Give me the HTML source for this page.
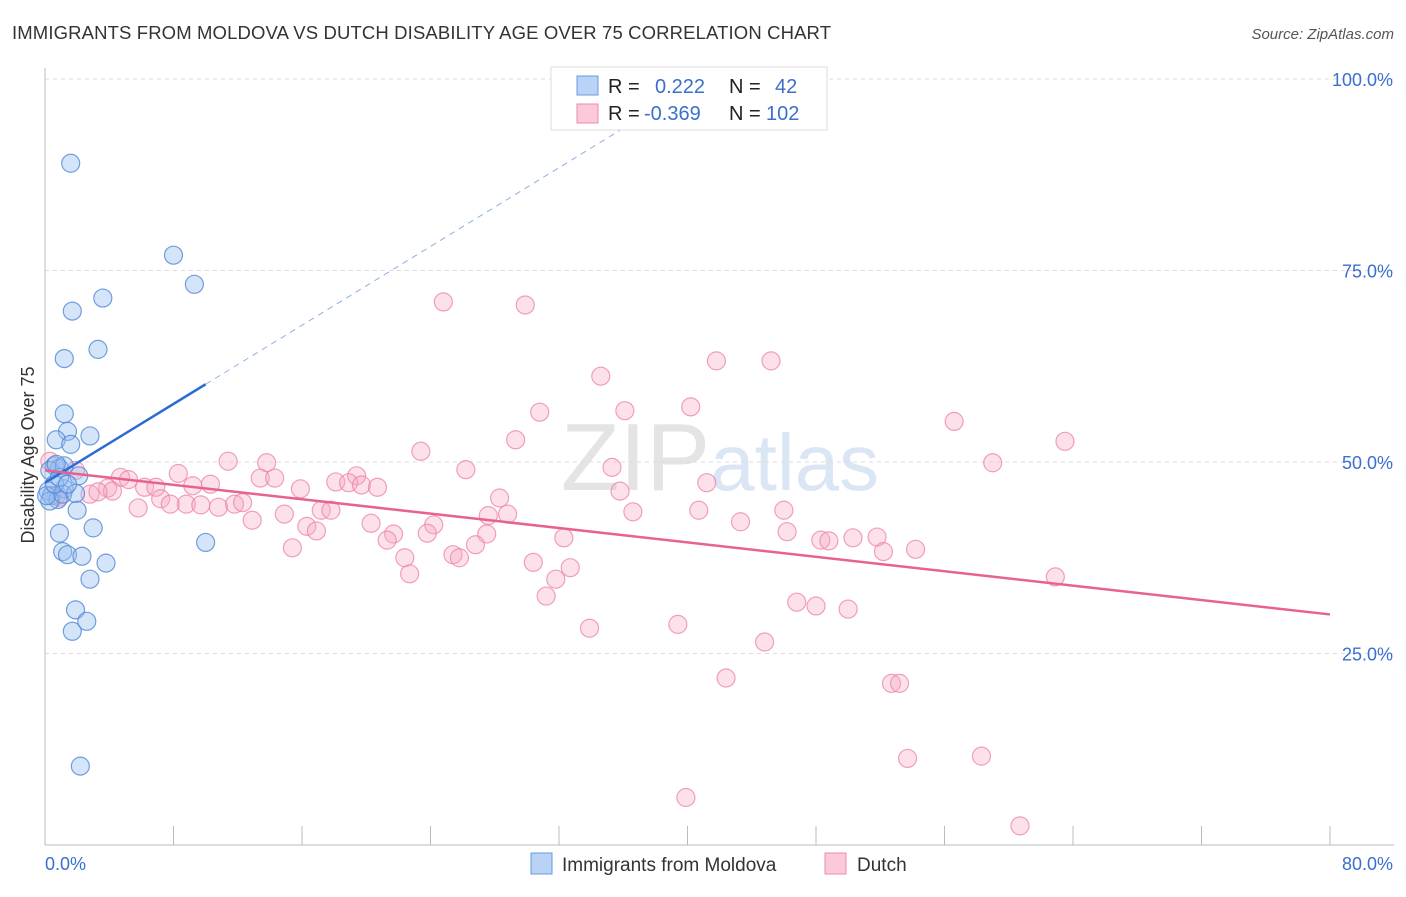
<!DOCTYPE html>
<html><head><meta charset="utf-8"><style>
body{margin:0;background:#fff;font-family:"Liberation Sans",sans-serif}
svg text{font-family:"Liberation Sans",sans-serif}
</style></head><body>
<svg id="c" width="1406" height="892">
<text x="12" y="39" font-size="18.5" fill="#333" textLength="819">IMMIGRANTS FROM MOLDOVA VS DUTCH DISABILITY AGE OVER 75 CORRELATION CHART</text>
<text x="1394" y="39" font-size="15" fill="#555" text-anchor="end" font-style="italic">Source: ZipAtlas.com</text>
<text x="720" y="490" font-size="96" fill="#e4e4e4" text-anchor="middle" font-family="Liberation Serif">ZIP<tspan fill="#dbe6f5" font-family="Liberation Sans" font-size="80">atlas</tspan></text>
<g id="grid"></g><g id="axes"></g><g id="pts"></g><g id="lines"></g>
<text x="34" y="455" font-size="18" fill="#333" text-anchor="middle" transform="rotate(-90 34 455)">Disability Age Over 75</text>
<g>
<rect x="551" y="67" width="276" height="63" fill="#fff" stroke="#ddd"/>
<rect x="577" y="76" width="21" height="19" fill="#b8d3f5" stroke="#6a9be0"/>
<rect x="577" y="104" width="21" height="19" fill="#fbc9d8" stroke="#ec8aaa"/>
<text x="608" y="93" font-size="20" fill="#222">R = <tspan x="655" fill="#3a6fcf">0.222</tspan><tspan x="729" fill="#222">N =</tspan><tspan x="775" fill="#3a6fcf">42</tspan></text>
<text x="608" y="120" font-size="20" fill="#222">R = <tspan x="644" fill="#3a6fcf">-0.369</tspan><tspan x="729" fill="#222">N =</tspan><tspan x="766" fill="#3a6fcf">102</tspan></text>
</g>
<g>
<rect x="531" y="853" width="21" height="21" fill="#b8d3f5" stroke="#6a9be0"/>
<text x="562" y="871" font-size="19" fill="#333">Immigrants from Moldova</text>
<rect x="825" y="853" width="21" height="21" fill="#fbc9d8" stroke="#ec8aaa"/>
<text x="857" y="871" font-size="19" fill="#333">Dutch</text>
</g>
</svg>
<script>
const yTicks=[25,50,75,100];
const yTickLabels=["25.0%","50.0%","75.0%","100.0%"];
const xTicks=[0,8,16,24,32,40,48,56,64,72,80];
const blueX=[1.6,8.0,9.3,3.6,1.7,3.3,1.2,1.2,1.4,0.7,2.8,1.6,0.6,0.9,0.3,1.2,2.1,0.2,0.4,1.2,0.8,2.0,3.0,0.9,1.1,1.4,2.3,3.8,2.8,10.0,1.9,1.7,2.6,2.2,0.3,0.1,1.1,1.9,0.6,0.9,1.4,0.7];
const blueY=[89.0,77.0,73.2,71.4,69.7,64.7,63.5,56.3,54.0,52.9,53.4,52.3,49.5,49.2,48.9,49.5,48.2,46.2,45.6,46.5,45.1,43.7,41.4,40.7,38.3,37.9,37.7,36.8,34.7,39.5,30.7,27.9,29.2,10.3,44.9,45.6,45.8,45.9,47.1,48.0,47.1,49.7];
const pinkX=[24.8,29.9,41.8,45.2,34.6,30.8,36.1,40.2,56.6,63.5,29.3,23.4,59.0,11.4,13.8,35.3,26.2,8.3,4.7,5.2,13.4,14.3,19.4,10.3,18.1,18.9,19.7,20.7,15.9,9.2,6.2,6.9,3.9,4.2,2.8,3.3,7.2,7.8,8.8,9.7,10.8,11.8,12.3,28.3,35.8,41.2,46.0,40.7,36.6,17.2,17.8,14.9,12.9,16.3,16.9,20.3,21.7,24.2,23.8,27.6,28.8,43.3,46.2,5.8,21.3,27.5,32.3,48.3,48.8,50.3,51.8,52.2,54.2,15.4,22.4,25.4,25.8,26.8,30.4,32.7,22.7,31.8,31.2,62.9,46.8,48.0,50.0,33.9,39.4,44.8,42.4,52.7,53.2,53.7,58.3,39.9,60.7,0.9,1.9,0.3,0.7];
const pinkY=[70.9,70.5,63.2,63.2,61.2,56.5,56.7,57.2,55.3,52.7,52.9,51.4,49.9,50.1,49.9,49.3,49.0,48.5,48.0,47.7,47.9,47.9,48.2,47.1,47.4,47.3,47.0,46.7,46.5,46.9,46.7,46.7,46.6,46.2,45.8,46.1,45.2,44.5,44.5,44.4,44.1,44.5,44.7,45.3,46.2,47.3,43.7,43.7,43.5,43.7,43.7,43.2,42.4,41.6,41.0,42.0,40.6,41.8,40.7,43.0,43.2,42.2,40.9,44.0,39.8,40.6,40.1,39.8,39.7,40.1,40.2,38.3,38.6,38.8,37.5,37.9,37.5,39.2,36.9,36.2,35.4,34.7,32.5,35.0,31.7,31.2,30.8,28.3,28.8,26.5,21.8,21.1,21.1,11.3,11.6,6.2,2.5,45.4,48.9,50.1,45.6];
const blueFit=[47.3,1.285];
const pinkFit=[48.9,-0.235];
const NS="http://www.w3.org/2000/svg";
const X0=45,X1=1330,Y0=845,Y100=79;
const xs=v=>X0+v/80*(X1-X0), ys=v=>Y0-v/100*(Y0-Y100);
function mk(tag,attrs,parent){const e=document.createElementNS(NS,tag);for(const k in attrs)e.setAttribute(k,attrs[k]);document.getElementById(parent).appendChild(e);return e;}
yTicks.forEach((t,i)=>{
 const l=mk('line',{x1:X0,x2:1394,y1:ys(t),y2:ys(t),stroke:'#ddd','stroke-dasharray':'4,4'},'grid');
 
 
 const tx=mk('text',{x:1393,y:ys(t)+7,'font-size':18,fill:'#3a6fcf','text-anchor':'end'},'grid');
 tx.textContent=yTickLabels[i];
 
 
});
const ax=mk('line',{x1:X0,x2:X0,y1:68,y2:Y0,stroke:'#bbb'},'axes');


const bx=mk('line',{x1:X0,x2:1394,y1:Y0,y2:Y0,stroke:'#bbb'},'axes');


xTicks.forEach(t=>{const l=mk('line',{x1:xs(t),x2:xs(t),y1:826,y2:Y0,stroke:'#bbb'},'axes');
 
 });
[[0,"0.0%",'start',X0],[80,"80.0%",'end',1393]].forEach(a=>{const t=mk('text',{x:a[3],y:870,'font-size':18,fill:'#3a6fcf','text-anchor':a[2]},'axes');t.textContent=a[1];
 
 });
pinkX.forEach((v,i)=>{const c=mk('circle',{cx:xs(v),cy:ys(pinkY[i]),r:9,fill:'rgba(246,170,195,0.35)',stroke:'rgba(236,130,165,0.75)','stroke-width':1.2},'pts');
 
 });
blueX.forEach((v,i)=>{const c=mk('circle',{cx:xs(v),cy:ys(blueY[i]),r:9,fill:'rgba(150,190,240,0.4)',stroke:'rgba(80,135,215,0.8)','stroke-width':1.2},'pts');
 
 });
const xEnd=(100-blueFit[0])/blueFit[1];
const bd=mk('line',{x1:xs(10),y1:ys(blueFit[0]+blueFit[1]*10),x2:xs(xEnd),y2:ys(100),stroke:'#8fb0e0','stroke-width':1,'stroke-dasharray':'6,5'},'lines');


const bl=mk('line',{x1:xs(0),y1:ys(blueFit[0]),x2:xs(10),y2:ys(blueFit[0]+blueFit[1]*10),stroke:'#2b6bd6','stroke-width':2.5},'lines');


const pl=mk('line',{x1:xs(0),y1:ys(pinkFit[0]),x2:xs(80),y2:ys(pinkFit[0]+pinkFit[1]*80),stroke:'#e8628f','stroke-width':2.5},'lines');


</script>
</body></html>
